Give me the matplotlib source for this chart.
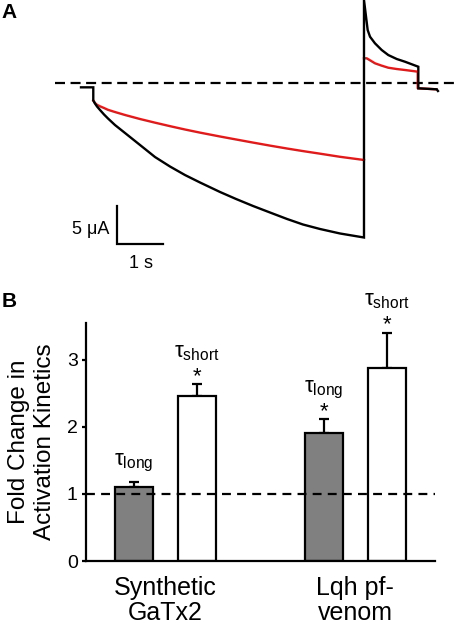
import matplotlib
matplotlib.use("Agg")
import matplotlib.pyplot as plt

plt.rcParams['font.family'] = ['Liberation Sans', 'DejaVu Sans']
plt.rcParams['mathtext.fontset'] = 'custom'
plt.rcParams['mathtext.rm'] = 'Liberation Sans'
plt.rcParams['mathtext.it'] = 'Liberation Sans'
plt.rcParams['mathtext.default'] = 'rm'

# ---------------- Panel A data (time in s, current in uA) ----------------
hold_t = [0.0, 0.267]
hold_i = [-0.57, -0.57]

black_t = [0.267, 0.304, 0.348, 0.413, 0.500, 0.587, 0.739, 0.957, 1.174, 1.391,
           1.609, 1.935, 2.261, 2.587, 3.022, 3.370, 3.739, 4.109, 4.478, 4.826,
           5.196, 5.630, 6.152]
black_i = [-2.30, -2.70, -3.09, -3.55, -4.14, -4.67, -5.53, -6.58, -7.63, -8.68,
           -9.74, -10.99, -12.11, -13.09, -14.34, -15.26, -16.18, -17.04, -17.89, -18.62,
           -19.21, -19.80, -20.33]
black_tail_t = [6.152, 6.152, 6.232, 6.283, 6.391, 6.537, 6.680, 6.863, 7.043, 7.333,
                7.333, 7.732, 7.760]
black_tail_i = [-20.33, 10.92, 6.97, 6.09, 5.22, 4.34, 3.68, 3.16, 2.80, 2.14,
                -0.70, -0.83, -1.05]

red_t = [0.267, 0.304, 0.348, 0.413, 0.500, 0.587, 0.739, 0.957, 1.283, 1.609,
         1.935, 2.261, 2.587, 3.022, 3.370, 3.739, 4.109, 4.478, 4.826, 5.196,
         5.630, 6.152]
red_i = [-2.30, -2.63, -2.87, -3.07, -3.29, -3.53, -3.82, -4.21, -4.74, -5.22,
         -5.68, -6.12, -6.53, -7.04, -7.43, -7.84, -8.24, -8.62, -8.96, -9.30,
         -9.71, -10.13]
red_tail_t = [6.152, 6.211, 6.391, 6.537, 6.680, 6.863, 7.043, 7.320, 7.320, 7.732]
red_tail_i = [3.25, 3.25, 2.59, 2.28, 2.01, 1.84, 1.71, 1.49, -0.70, -0.83]

scale_t = 1.0   # s
scale_i = 5.0   # uA

# ---------------- Panel B data ----------------
groups = ['Synthetic\nGaTx2', 'Lqh pf-\nvenom']
bar_pos = [0, 1, 3, 4]
bar_vals = [1.10, 2.45, 1.91, 2.87]
bar_err = [0.07, 0.18, 0.20, 0.53]
bar_kind = ['long', 'short', 'long', 'short']
bar_sig = [False, True, True, True]
bar_colors = ['#808080', 'white', '#808080', 'white']
yticks = [0, 1, 2, 3]

W, H = 456, 626
fig = plt.figure(figsize=(W / 100, H / 100), dpi=100)

# ---------------- Panel A ----------------
axA = fig.add_axes([0, 1 - 280 / H, 1, 280 / H])
axA.set_xlim(-81 / 46, (456 - 81) / 46)
axA.set_ylim(-(280 - 83) / 7.6, 83 / 7.6)
axA.axis('off')

axA.plot([-26 / 46, (456 - 81) / 46], [0, 0], color='black', lw=1.6,
         dashes=(4.5, 2.5), zorder=1)
axA.plot(red_t, red_i, color='#e01b1b', lw=1.7, zorder=2)
axA.plot(red_tail_t, red_tail_i, color='#e01b1b', lw=1.7, zorder=2)
axA.plot(hold_t + black_t + black_tail_t, hold_i + black_i + black_tail_i,
         color='black', lw=1.7, zorder=3, solid_joinstyle='miter', clip_on=False)

sx, sy = 0.783, -21.12
axA.plot([sx, sx, sx + scale_t], [sy + scale_i, sy, sy], color='black', lw=1.6,
         solid_joinstyle='miter')
axA.text(sx - 0.17, sy + 1.8, '5 \u03bcA', ha='right', va='center', fontsize=13)
axA.text(sx + scale_t / 2 + 0.03, sy - 2.6, '1 s', ha='center', va='center', fontsize=13)

fig.text(1 / W, 1 - 3 / H, 'A', ha='left', va='top', fontsize=15, fontweight='bold')
fig.text(2 / W, 1 - 292 / H, 'B', ha='left', va='top', fontsize=15, fontweight='bold')

# ---------------- Panel B ----------------
axB = fig.add_axes([86 / W, (H - 561) / H, (435 - 86) / W, (561 - 323.3) / H])
axB.set_xlim(-0.754, 4.76)
axB.set_ylim(0, 3.54)

axB.bar(bar_pos, bar_vals, width=0.6, color=bar_colors, edgecolor='black',
        linewidth=1.6, zorder=2)
axB.errorbar(bar_pos, bar_vals, yerr=[[0] * 4, bar_err], fmt='none', ecolor='black',
             elinewidth=1.6, capsize=3.6, capthick=1.6, zorder=1)
axB.axhline(1, color='black', lw=1.6, dashes=(4, 2.8), zorder=3)

for x, v, e, k, s in zip(bar_pos, bar_vals, bar_err, bar_kind, bar_sig):
    top = v + e
    if s:
        axB.annotate('*', (x, top), xytext=(0, 1.5), textcoords='offset points',
                     ha='center', va='baseline', fontsize=16, annotation_clip=False)
        off = 19.5
    else:
        off = 12.5
    axB.annotate(r'$\tau_{%s}$' % k, (x, top), xytext=(0, off), textcoords='offset points',
                 ha='center', va='baseline', fontsize=16, annotation_clip=False)

axB.spines['top'].set_visible(False)
axB.spines['right'].set_visible(False)
axB.spines['left'].set_linewidth(1.6)
axB.spines['bottom'].set_linewidth(1.6)
axB.set_yticks(yticks)
axB.set_yticklabels([str(t) for t in yticks])
axB.tick_params(axis='y', direction='out', length=3, width=1.6, labelsize=14, pad=3)
axB.set_xticks([0.5, 3.5])
axB.set_xticklabels(groups, fontsize=18, linespacing=1.05)
axB.tick_params(axis='x', length=0, pad=11)
axB.set_ylabel('Fold Change in\nActivation Kinetics', fontsize=17.5, labelpad=8)

fig.savefig('out.png', dpi=100)
